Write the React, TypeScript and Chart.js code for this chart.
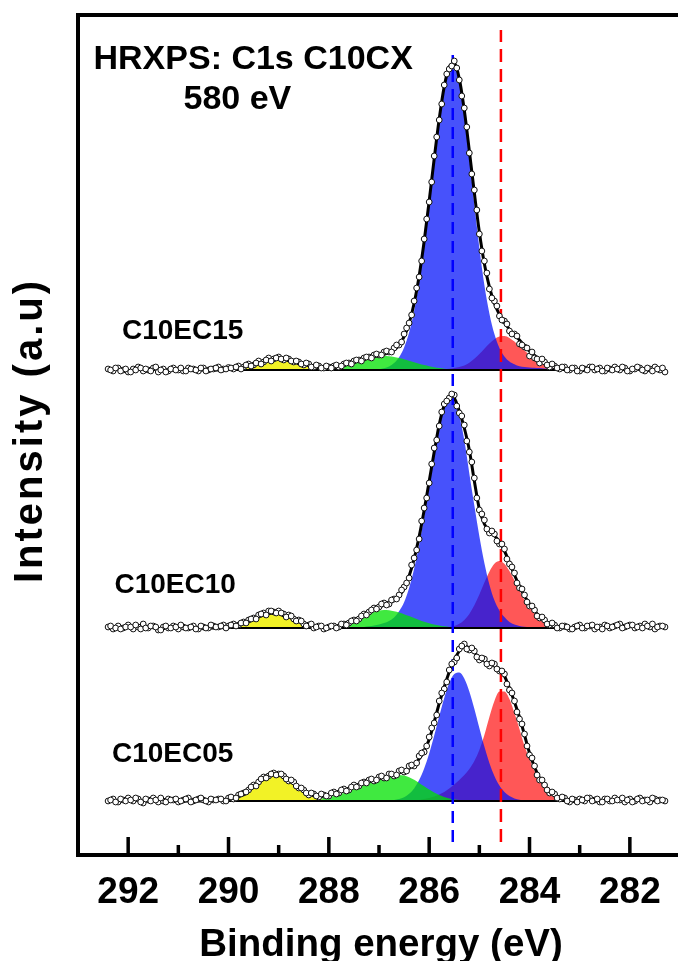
import React, { useEffect, useRef } from "react";
import { Chart, registerables } from "chart.js";

Chart.register(...registerables);

// ---------------- data ----------------
// binding-energy grid of the measured points (eV)
const ENERGY = [
  292.4, 292.3, 292.2, 292.1,
  292.0, 291.9, 291.8, 291.7, 291.6, 291.5, 291.4, 291.3, 291.2, 291.1,
  291.0, 290.9, 290.8, 290.7, 290.6, 290.5, 290.4, 290.3, 290.2, 290.1,
  290.0, 289.9, 289.8, 289.7, 289.6, 289.5, 289.4, 289.3, 289.2, 289.1,
  289.0, 288.9, 288.8, 288.7, 288.6, 288.5, 288.4, 288.3, 288.2, 288.1,
  288.0, 287.9, 287.8, 287.7, 287.6, 287.5, 287.4, 287.3, 287.2, 287.1,
  287.0, 286.9, 286.8, 286.7, 286.6, 286.5, 286.4, 286.3, 286.2, 286.1,
  286.0, 285.9, 285.8, 285.7, 285.6, 285.5, 285.4, 285.3, 285.2, 285.1,
  285.0, 284.9, 284.8, 284.7, 284.6, 284.5, 284.4, 284.3, 284.2, 284.1,
  284.0, 283.9, 283.8, 283.7, 283.6, 283.5, 283.4, 283.3, 283.2, 283.1,
  283.0, 282.9, 282.8, 282.7, 282.6, 282.5, 282.4, 282.3, 282.2, 282.1,
  282.0, 281.9, 281.8, 281.7, 281.6, 281.5, 281.4, 281.3,
];
// interleaved half-step measurement energies (eV)
const ENERGY_HALF = [
  292.35, 292.25, 292.15, 292.05,
  291.95, 291.85, 291.75, 291.65, 291.55, 291.45, 291.35, 291.25, 291.15, 291.05,
  290.95, 290.85, 290.75, 290.65, 290.55, 290.45, 290.35, 290.25, 290.15, 290.05,
  289.95, 289.85, 289.75, 289.65, 289.55, 289.45, 289.35, 289.25, 289.15, 289.05,
  288.95, 288.85, 288.75, 288.65, 288.55, 288.45, 288.35, 288.25, 288.15, 288.05,
  287.95, 287.85, 287.75, 287.65, 287.55, 287.45, 287.35, 287.25, 287.15, 287.05,
  286.95, 286.85, 286.75, 286.65, 286.55, 286.45, 286.35, 286.25, 286.15, 286.05,
  285.95, 285.85, 285.75, 285.65, 285.55, 285.45, 285.35, 285.25, 285.15, 285.05,
  284.95, 284.85, 284.75, 284.65, 284.55, 284.45, 284.35, 284.25, 284.15, 284.05,
  283.95, 283.85, 283.75, 283.65, 283.55, 283.45, 283.35, 283.25, 283.15, 283.05,
  282.95, 282.85, 282.75, 282.65, 282.55, 282.45, 282.35, 282.25, 282.15, 282.05,
  281.95, 281.85, 281.75, 281.65, 281.55, 281.45, 281.35,
];

const X_MAJOR_TICKS = [292, 290, 288, 286, 284, 282];
const X_MINOR_TICKS = [291, 289, 287, 285, 283];
const X_LEFT = 293.0;
const X_RIGHT = 281.14;
const Y_MIN = 0;
const Y_MAX = 840;

// vertical stacking offsets of the three spectra
const OFFSET_C10EC15 = 485;
const OFFSET_C10EC10 = 227;
const OFFSET_C10EC05 = 54;

// reference lines (eV) and their vertical extent
const BLUE_REF_E = 285.53;
const RED_REF_E = 284.57;
const REF_BOTTOM = 13;
const BLUE_REF_TOP = 800;
const RED_REF_TOP = 825;

// fitted background range
const BG_FROM = 291.0;
const BG_TO = 283.2;
const ENVELOPE_FROM = 291.0;

// ---- C10EC15 ----
const C10EC15_POINTS = [
  1, -1, 2, 0,
  -2, 1, 3, -1, 0, 2, -2, 1, -1, 2,
  0, -1, 2, 1, -1, 2, 0, 1, 3, 1,
  2.5, 1, 4, 3, 6, 5, 9, 8, 12, 11,
  13, 10, 11, 8, 8, 5, 6, 3, 4, 2,
  3, 4, 3, 6, 7, 9, 10, 12, 13, 15,
  15, 18, 18, 22, 25, 36, 47, 69, 93, 131,
  168, 214, 250, 285, 301, 309, 290, 262, 217, 180,
  136, 109, 81, 69, 54, 49, 39, 36, 26, 23,
  14, 12, 7, 8, 3, 4, 1, 3, 0, 2,
  -1, 1, 3, 0, 2, -1, 1, 3, 0, 2,
  -1, 1, 2, -1, 1, 3, 0, -2,
];
const C10EC15_POINTS_HALF = [
  0, 2, -1, 1,
  -2, 0, 2, 1, -1, 3, 0, -2, 1, 0,
  2, -1, 1, 0, 2, -1, 1, 2, 0, 1,
  2, 3, 1, 5, 4, 7, 6, 10, 9, 12,
  11, 12, 9, 9, 6, 7, 3, 5, 2, 4,
  2, 5, 4, 7, 6, 10, 9, 13, 12, 16,
  15, 19, 18, 25, 28, 42, 55, 82, 109, 151,
  188, 233, 266, 296, 304, 302, 274, 243, 196, 160,
  119, 97, 72, 64, 50, 46, 36, 34, 25, 22,
  18, 11, 11, 5, 6, 2, 3, 0, 2, -1,
  2, 0, 3, 1, -1, 2, 0, 1, 3, -1,
  1, 3, 0, 2, -1, 1, 2,
];
const C10EC15_ENVELOPE = [
  0, 0, 0, 0, 0, 0, 0, 0, 0, 0,
  0.7, 1.2, 1.9, 2.8, 4.1, 5.5, 7.1, 8.6, 9.8, 10.7,
  11, 10.7, 9.8, 8.6, 7.1, 5.7, 4.5, 3.4, 2.8, 2.5,
  2.6, 2.7, 3.7, 4.9, 6.3, 7.8, 9.3, 10.8, 12.1, 13.4,
  14.5, 15.7, 17.3, 20, 24.9, 33.3, 46.7, 66.7, 94.1, 128.8,
  169, 211.3, 251.1, 283.4, 303, 306.6, 291.4, 259.7, 219.3, 177.2,
  138, 106.3, 83.1, 66.7, 55.5, 47.5, 40.6, 35, 30, 24,
  19, 14.5, 11, 8, 5.5, 3.5, 2, 1, 0.3,
];
const C10EC15_YELLOW_FROM = 290.1;
const C10EC15_YELLOW = [0, 0.7, 1.2, 1.9, 2.8, 4.1, 5.5, 7.1, 8.6, 9.8, 10.7, 11, 10.7, 9.8, 8.6, 7.1, 5.5, 4.1, 2.8, 1.9, 1.2, 0.7, 0];
const C10EC15_GREEN_FROM = 288.6;
const C10EC15_GREEN = [0, 0.2, 0.4, 0.6, 0.9, 1.3, 1.9, 2.7, 3.7, 4.9, 6.3, 7.8, 9.3, 10.8, 12.1, 13.1, 13.8, 14, 13.8, 13.1, 12.1, 10.8, 9.3, 7.8, 6.3, 4.9, 3.7, 2.7, 1.9, 1.3, 0.9, 0.6, 0.4, 0.2, 0];
const C10EC15_BLUE_FROM = 287.2;
const C10EC15_BLUE = [0, 0.3, 0.7, 1.7, 3.5, 6.9, 12.8, 22.5, 37.4, 58.9, 87.8, 123.9, 165.3, 208.6, 249.2, 281.5, 300.9, 304, 288, 255, 212, 166, 122, 85, 56.6, 35.9, 22.1, 13.6, 8.5, 5.7, 3.7, 2.9, 2.5, 2.2, 1.9, 1.6, 1.4, 1.2, 1.0, 0.8, 0.6, 0.4, 0];
const C10EC15_RED_FROM = 285.8;
const C10EC15_RED = [0, 0.6, 1.2, 2, 3, 4.5, 7.3, 11.2, 16, 21.3, 26.5, 30.8, 33.4, 33.9, 32.1, 28.4, 23.4, 19.5, 15, 11, 8, 5.5, 3.5, 2, 1, 0.4, 0];

// ---- C10EC10 ----
const C10EC10_POINTS = [
  1, -1, 2, 0,
  3, -1, 1, 4, 0, 2, -2, 1, 0, 2,
  -1, 1, 0, 2, -1, 1, 0, 2, 1, 3,
  2, 4, 3, 6, 8, 10, 13, 15, 17, 16,
  17, 14, 13, 9, 8, 4, 3, 0, 2, -1,
  1, 2, 1, 4, 5, 8, 9, 14, 16, 20,
  21, 25, 24, 29, 33, 41, 50, 70, 89, 120,
  145, 180, 202, 224, 230, 233, 215, 203, 176, 150,
  118, 108, 95, 94, 84, 79, 64, 55, 40, 33,
  22, 18, 10, 8, 3, 3, 0, 2, -1, 1,
  3, 0, 2, -1, 1, 3, 0, 2, 4, 1,
  3, 0, 2, 4, 1, -1, 2, 1,
];
const C10EC10_POINTS_HALF = [
  2, 0, -1, 1,
  1, 3, -1, 0, 2, 1, -2, 2, 0, 1,
  3, 0, 1, -1, 2, 0, 3, 1, 2, 0,
  3, 2, 5, 5, 9, 9, 14, 13, 17, 15,
  15, 11, 12, 7, 7, 2, 4, 1, 2, 0,
  2, 0, 4, 3, 7, 7, 12, 13, 18, 19,
  24, 23, 28, 29, 38, 45, 63, 78, 107, 130,
  164, 188, 216, 227, 234, 222, 212, 187, 166, 130,
  114, 99, 97, 87, 84, 69, 61, 45, 39, 26,
  22, 12, 11, 4, 5, 0, 2, 1, -1, 2,
  0, 2, 3, 1, -1, 2, 1, 3, 0, 2,
  3, 1, 0, 2, 4, 1, 2,
];
const C10EC10_ENVELOPE = [
  0, 0, 0, 0, 0, 0, 0, 0, 0.2, 0.5,
  0.9, 1.7, 2.8, 4.4, 6.4, 8.7, 11, 13.1, 14.5, 15,
  14.5, 13.1, 11, 8.7, 6.4, 4.4, 2.8, 1.7, 0.9, 0.8,
  0.6, 1.1, 1.9, 3.1, 4.6, 6.6, 9.5, 12.6, 15.7, 18.6,
  21, 23, 24.7, 27.4, 32.2, 39.5, 52, 69.2, 91.4, 117.8,
  146.7, 176, 203.5, 222.5, 231.5, 229.7, 217, 200, 178, 147,
  119, 104, 97, 92.5, 86, 77, 65.5, 53, 42, 32,
  24, 17, 11.5, 7, 4, 2, 0.8, 0, 0,
];
const C10EC10_YELLOW_FROM = 290.2;
const C10EC10_YELLOW = [0, 0.5, 0.9, 1.7, 2.8, 4.4, 6.4, 8.7, 11, 13.1, 14.5, 15, 14.5, 13.1, 11, 8.7, 6.4, 4.4, 2.8, 1.7, 0.9, 0.5, 0];
const C10EC10_GREEN_FROM = 288.2;
const C10EC10_GREEN = [0, 0.3, 0.6, 1.1, 1.9, 3.1, 4.6, 6.6, 9, 11.6, 14, 16.1, 17.5, 18, 17.7, 16.8, 15.5, 13.8, 12, 10, 8.1, 6.3, 4.8, 3.5, 2.5, 1.7, 1.1, 0.7, 0.45, 0.3, 0];
const C10EC10_BLUE_FROM = 287.5;
const C10EC10_BLUE = [0, 0.5, 1, 1.7, 2.5, 3.5, 5, 7, 10.6, 16.7, 25.7, 40, 59.2, 83.3, 111.5, 141.9, 171.8, 201, 220.5, 229.5, 227, 212.3, 187.9, 154.6, 122.5, 91.8, 65.1, 43.6, 27.7, 17.6, 10.9, 6, 3.5, 2, 1.2, 0.6, 0.2, 0];
const C10EC10_RED_FROM = 285.8;
const C10EC10_RED = [0, 0.3, 0.9, 2, 4.2, 8, 14.1, 22.7, 33.5, 45.4, 56.3, 64.2, 67, 64.2, 57, 47.5, 37.5, 28, 21, 14.5, 9.5, 5.5, 3, 1.5, 0.6, 0];

// ---- C10EC05 ----
const C10EC05_POINTS = [
  0, 2, -1, 1,
  3, 0, 2, -2, 1, 3, -1, 0, 2, 1,
  -1, 1, 3, 0, 2, 1, -1, 1, 2, 0,
  3, 2, 6, 8, 11, 16, 19, 24, 25, 28,
  27, 25, 20, 19, 13, 11, 6, 7, 4, 6,
  5, 9, 8, 12, 11, 16, 15, 19, 21, 20,
  24, 23, 27, 25, 30, 29, 35, 35, 45, 49,
  64, 78, 100, 112, 131, 139, 152, 157, 151, 150,
  141, 142, 135, 137, 130, 127, 111, 100, 82, 67,
  46, 35, 21, 16, 8, 7, 2, 3, -1, 1,
  2, 0, 3, 1, -1, 2, 0, 3, 1, -1,
  2, 0, 3, 1, -1, 2, 1, 0,
];
const C10EC05_POINTS_HALF = [
  1, -1, 2, 0,
  1, 3, -1, 2, 0, 1, 3, -1, 1, 2,
  0, 2, -1, 1, 3, 0, 2, 1, 2, 0,
  4, 3, 7, 9, 14, 15, 22, 23, 27, 26,
  27, 22, 21, 15, 13, 8, 8, 5, 7, 5,
  8, 7, 11, 10, 14, 14, 18, 18, 22, 21,
  25, 23, 27, 26, 31, 30, 36, 38, 48, 55,
  73, 86, 108, 119, 137, 143, 155, 152, 153, 144,
  143, 137, 138, 132, 130, 117, 108, 89, 77, 55,
  43, 26, 21, 11, 9, 3, 4, 0, 2, -1,
  1, 3, 0, 2, -1, 2, 0, 1, 3, 1,
  -1, 2, 0, 1, 3, 0, 1,
];
const C10EC05_ENVELOPE = [
  0, 0, 0, 0, 0, 0, 0.2, 0.4, 0.6, 1,
  1.6, 2.8, 4.6, 7.2, 10.5, 14.5, 18.7, 22.5, 25.2, 26.6,
  26.3, 24.5, 21.5, 17.8, 14, 10.5, 8, 6.4, 5.8, 6,
  6.5, 7.4, 8.8, 10.5, 12.3, 14.3, 16.2, 18, 19.6, 21,
  22.3, 23.7, 25, 26.4, 28, 30, 32.5, 36.5, 42, 50.5,
  61.5, 79, 97.5, 114, 129, 141, 150, 155, 153, 148.5,
  143, 140, 137.5, 135, 132, 125, 113, 99, 84, 66,
  48, 34, 23, 15.5, 10, 6.5, 3.5, 1.5, 0,
];
const C10EC05_YELLOW_FROM = 290.3;
const C10EC05_YELLOW = [0, 0.3, 0.7, 1.3, 2.5, 4.2, 6.7, 9.9, 13.8, 17.9, 21.7, 24.5, 25.9, 25.6, 23.6, 20.3, 16.3, 12.2, 8.5, 5.6, 3.4, 2, 1, 0.5, 0.2, 0];
const C10EC05_GREEN_FROM = 288.8;
const C10EC05_GREEN = [0, 0.4, 0.6, 0.8, 1.2, 1.6, 2.2, 3, 4, 5.1, 6.5, 8.1, 10, 12, 14.1, 16.2, 18.4, 20.5, 22.3, 23.9, 25, 25.8, 26, 25.4, 23.7, 21.2, 18, 14.7, 11.4, 8.5, 6, 4.1, 2.6, 1.6, 1, 0.5, 0.3, 0.1, 0];
const C10EC05_BLUE_FROM = 286.9;
const C10EC05_BLUE = [0, 0.4, 0.9, 1.9, 3.8, 7.2, 12.6, 20.9, 32.5, 47.5, 65.4, 84.7, 103.1, 118, 127, 128.6, 122.5, 109.6, 92.3, 73.1, 54.4, 38.1, 25.1, 15.5, 9, 5, 2.6, 1.2, 0.5, 0];
const C10EC05_RED_FROM = 286.4;
const C10EC05_RED = [0, 0.4, 1, 2, 3, 4.5, 6.5, 9, 12.5, 16.5, 21, 26, 32, 40, 51, 66, 84, 100, 109.6, 109.6, 102, 88, 72, 55, 42, 30, 20, 12.5, 7, 4, 2, 1, 0.4, 0];

// ---------------- styles ----------------
const YELLOW_FILL = "rgba(240, 240, 0, 0.85)";
const GREEN_FILL = "rgba(0, 225, 0, 0.75)";
const BLUE_FILL = "rgba(0, 15, 250, 0.72)";
const RED_FILL = "rgba(255, 0, 0, 0.66)";
const FONT = '"Liberation Sans", Arial, Helvetica, sans-serif';

const W = 678;
const H = 961;

function component(from: number, values: number[], offset: number) {
  const start = ENERGY.indexOf(from);
  return values.map((v, j) => ({ x: ENERGY[start + j], y: offset + v }));
}

function buildSpectrum(
  offset: number,
  points: number[],
  pointsHalf: number[],
  envelope: number[],
  comps: { from: number; values: number[]; color: string; order: number }[]
) {
  const sets: any[] = [];
  const measured = [
    ...ENERGY.map((e, i) => ({ x: e, y: offset + points[i] })),
    ...ENERGY_HALF.map((e, i) => ({ x: e, y: offset + pointsHalf[i] })),
  ];
  sets.push({
    data: measured,
    showLine: false,
    pointRadius: 2.9,
    pointBorderWidth: 1,
    pointBorderColor: "#111",
    pointBackgroundColor: "#fff",
    order: 0,
  });
  sets.push({
    data: component(ENVELOPE_FROM, envelope, offset),
    borderColor: "#000",
    borderWidth: 3,
    pointRadius: 0,
    cubicInterpolationMode: "monotone",
    fill: false,
    order: 2,
  });
  sets.push({
    data: [
      { x: BG_FROM, y: offset },
      { x: BG_TO, y: offset },
    ],
    borderColor: "#000",
    borderWidth: 2,
    pointRadius: 0,
    fill: false,
    order: 3,
  });
  for (const c of comps) {
    sets.push({
      data: component(c.from, c.values, offset),
      borderColor: "rgba(0,0,0,0)",
      borderWidth: 0,
      backgroundColor: c.color,
      pointRadius: 0,
      cubicInterpolationMode: "monotone",
      fill: { value: offset },
      order: c.order,
    });
  }
  return sets;
}

const decorPlugin = {
  id: "xpsDecor",
  afterDraw(chart: any) {
    const { ctx, chartArea: a, scales } = chart;
    const xs = scales.x;
    ctx.save();
    ctx.strokeStyle = "#000";
    ctx.fillStyle = "#000";
    // frame: top, left, bottom
    ctx.lineWidth = 4;
    ctx.beginPath();
    ctx.moveTo(W + 5, a.top);
    ctx.lineTo(a.left, a.top);
    ctx.lineTo(a.left, a.bottom);
    ctx.lineTo(W + 5, a.bottom);
    ctx.stroke();
    // inward ticks
    ctx.lineWidth = 3.5;
    ctx.beginPath();
    for (const v of X_MAJOR_TICKS) {
      const px = xs.getPixelForValue(v);
      ctx.moveTo(px, a.bottom);
      ctx.lineTo(px, a.bottom - 18);
    }
    for (const v of X_MINOR_TICKS) {
      const px = xs.getPixelForValue(v);
      ctx.moveTo(px, a.bottom);
      ctx.lineTo(px, a.bottom - 10);
    }
    ctx.stroke();
    // tick labels
    ctx.font = `bold 37px ${FONT}`;
    ctx.textAlign = "center";
    ctx.textBaseline = "alphabetic";
    for (const v of X_MAJOR_TICKS) {
      ctx.fillText(String(v), xs.getPixelForValue(v), a.bottom + 48);
    }
    // x title
    ctx.font = `bold 38.5px ${FONT}`;
    ctx.fillText("Binding energy (eV)", 381, 956);
    // y title
    ctx.save();
    ctx.translate(41.5, 430.5);
    ctx.rotate(-Math.PI / 2);
    ctx.font = `bold 40px ${FONT}`;
    try {
      (ctx as any).letterSpacing = "3px";
    } catch (e) {}
    ctx.textAlign = "center";
    ctx.fillText("Intensity (a.u)", 0, 0);
    ctx.restore();
    // annotations
    ctx.textAlign = "left";
    ctx.font = `bold 34px ${FONT}`;
    ctx.fillText("HRXPS: C1s C10CX", 93.5, 69);
    ctx.fillText("580 eV", 183.5, 109);
    ctx.font = `bold 28px ${FONT}`;
    ctx.fillText("C10EC15", 122, 339);
    ctx.fillText("C10EC10", 114.5, 593);
    ctx.fillText("C10EC05", 112, 761.5);
    ctx.restore();
  },
};

export default function App() {
  const canvasRef = useRef<HTMLCanvasElement | null>(null);

  useEffect(() => {
    if (!canvasRef.current) return;
    const datasets: any[] = [
      ...buildSpectrum(OFFSET_C10EC15, C10EC15_POINTS, C10EC15_POINTS_HALF, C10EC15_ENVELOPE, [
        { from: C10EC15_YELLOW_FROM, values: C10EC15_YELLOW, color: YELLOW_FILL, order: 4 },
        { from: C10EC15_GREEN_FROM, values: C10EC15_GREEN, color: GREEN_FILL, order: 5 },
        { from: C10EC15_BLUE_FROM, values: C10EC15_BLUE, color: BLUE_FILL, order: 6 },
        { from: C10EC15_RED_FROM, values: C10EC15_RED, color: RED_FILL, order: 7 },
      ]),
      ...buildSpectrum(OFFSET_C10EC10, C10EC10_POINTS, C10EC10_POINTS_HALF, C10EC10_ENVELOPE, [
        { from: C10EC10_YELLOW_FROM, values: C10EC10_YELLOW, color: YELLOW_FILL, order: 4 },
        { from: C10EC10_GREEN_FROM, values: C10EC10_GREEN, color: GREEN_FILL, order: 5 },
        { from: C10EC10_BLUE_FROM, values: C10EC10_BLUE, color: BLUE_FILL, order: 6 },
        { from: C10EC10_RED_FROM, values: C10EC10_RED, color: RED_FILL, order: 7 },
      ]),
      ...buildSpectrum(OFFSET_C10EC05, C10EC05_POINTS, C10EC05_POINTS_HALF, C10EC05_ENVELOPE, [
        { from: C10EC05_YELLOW_FROM, values: C10EC05_YELLOW, color: YELLOW_FILL, order: 4 },
        { from: C10EC05_GREEN_FROM, values: C10EC05_GREEN, color: GREEN_FILL, order: 5 },
        { from: C10EC05_BLUE_FROM, values: C10EC05_BLUE, color: BLUE_FILL, order: 6 },
        { from: C10EC05_RED_FROM, values: C10EC05_RED, color: RED_FILL, order: 7 },
      ]),
      {
        data: [
          { x: BLUE_REF_E, y: REF_BOTTOM },
          { x: BLUE_REF_E, y: BLUE_REF_TOP },
        ],
        borderColor: "rgb(0, 0, 255)",
        borderWidth: 2.5,
        borderDash: [12, 7],
        pointRadius: 0,
        fill: false,
        order: 1,
      },
      {
        data: [
          { x: RED_REF_E, y: REF_BOTTOM },
          { x: RED_REF_E, y: RED_REF_TOP },
        ],
        borderColor: "rgb(255, 0, 0)",
        borderWidth: 2.5,
        borderDash: [13, 7],
        pointRadius: 0,
        fill: false,
        order: 1,
      },
    ];

    const chart = new Chart(canvasRef.current, {
      type: "line",
      data: { datasets },
      options: {
        animation: false,
        responsive: false,
        maintainAspectRatio: false,
        devicePixelRatio: 1,
        layout: { padding: { left: 78, top: 15, right: 0, bottom: 106 } },
        plugins: {
          legend: { display: false },
          tooltip: { enabled: false },
        },
        scales: {
          x: { type: "linear", reverse: true, min: X_RIGHT, max: X_LEFT, display: false },
          y: { type: "linear", min: Y_MIN, max: Y_MAX, display: false },
        },
      } as any,
      plugins: [decorPlugin],
    });
    return () => chart.destroy();
  }, []);

  return (
    <div style={{ position: "absolute", left: 0, top: 0, width: W, height: H, background: "#fff" }}>
      <canvas ref={canvasRef} width={W} height={H} style={{ display: "block" }} />
    </div>
  );
}
